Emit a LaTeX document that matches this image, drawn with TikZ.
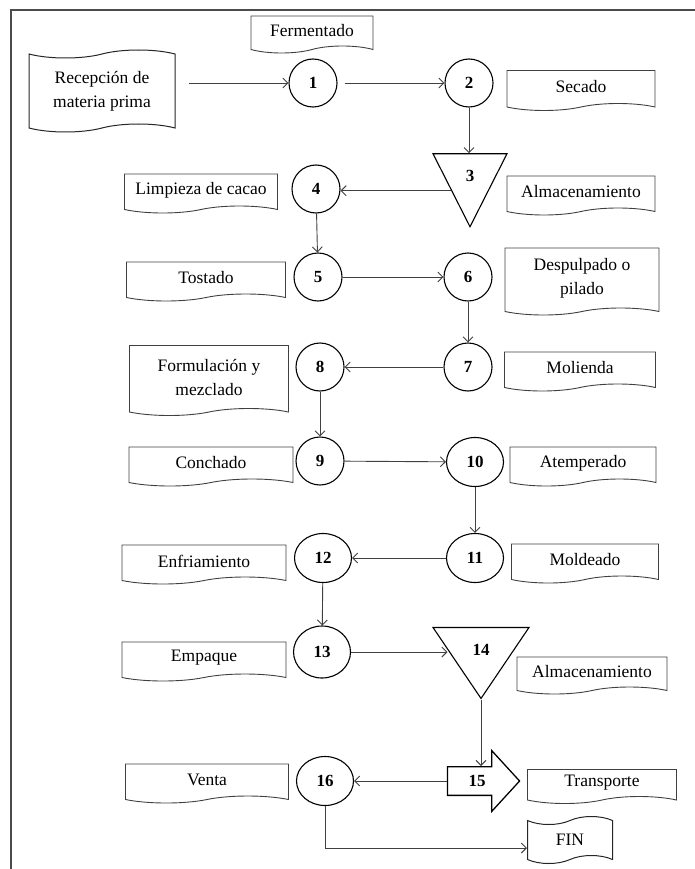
\documentclass[tikz,border=0pt]{standalone}
\usepackage{fontspec}
\setmainfont{Liberation Serif}
\usetikzlibrary{shapes.geometric, shapes.symbols, shapes.arrows, arrows.meta, positioning}

\begin{document}
\begin{tikzpicture}[x=1pt, y=-1pt,
  txt/.style={font=\fontsize{17.5}{24}\selectfont, align=center},
  doc/.style={txt, draw=black!75, line width=0.9pt, tape, tape bend top=none, tape bend bottom=in and out, tape bend height=7pt, inner sep=0pt, minimum height=39pt},
  flag/.style={txt, draw=black!85, line width=1pt, tape, tape bend height=8pt, inner sep=0pt},
  op/.style={draw, ellipse, line width=1.1pt, minimum width=48pt, minimum height=48pt, inner sep=0pt, font=\fontsize{17}{20}\selectfont\bfseries},
  wop/.style={op, minimum width=57pt, minimum height=49pt},
  store/.style={draw, isosceles triangle, isosceles triangle stretches, shape border rotate=-90, line width=1.1pt, inner sep=0pt, font=\fontsize{17}{20}\selectfont\bfseries},
  move/.style={draw, single arrow, single arrow head extend=16pt, single arrow tip angle=95, line width=1.3pt, inner xsep=10pt, inner ysep=8pt, minimum height=72pt, font=\fontsize{17}{20}\selectfont\bfseries},
  arrow/.style={-{Straight Barb[length=5pt, width=10pt]}, line width=0.9pt, draw=black!75}
]
\useasboundingbox (0,0) rectangle (695,869);

% Frame
\draw[line width=1.2pt, black!70] (11,869) -- (11,10) -- (695,10);

% Row 1
\node[flag, minimum width=146pt, minimum height=82pt] (recep) at (102,91) {Recepción de\\materia prima};
\node[doc, minimum width=122pt, minimum height=37pt] (ferm) at (312,31) {Fermentado};
\node[op] (c1) at (313,83) {1};
\node[op] (c2) at (469,83) {2};
\node[doc, minimum width=148pt, minimum height=40pt] (secado) at (581,87) {Secado};

% Row 2
\node[store, minimum width=74pt, minimum height=73pt] (t3) at (470,176) {3};
\node[doc, minimum width=148pt] (alm1) at (581,192) {Almacenamiento};
\node[op] (c4) at (316,189) {4};
\node[doc, minimum width=153pt] (limp) at (201,190) {Limpieza de cacao};

% Row 3
\node[doc, minimum width=159pt] (tost) at (206,278) {Tostado};
\node[op] (c5) at (318,277) {5};
\node[op] (c6) at (468,277) {6};
\node[doc, minimum width=154pt, minimum height=67pt] (desp) at (582,278) {Despulpado o\\pilado};

% Row 4
\node[op] (c7) at (468,367) {7};
\node[doc, minimum width=151pt] (mol) at (580,368) {Molienda};
\node[op] (c8) at (320,367) {8};
\node[doc, minimum width=159pt, minimum height=70pt] (form) at (209,377) {Formulación y\\mezclado};

% Row 5
\node[doc, minimum width=164pt] (conch) at (211,463) {Conchado};
\node[op] (c9) at (320,461) {9};
\node[wop] (c10) at (475,462) {10};
\node[doc, minimum width=146pt] (atem) at (583,463) {Atemperado};

% Row 6
\node[wop] (c11) at (475,558) {11};
\node[doc, minimum width=147pt] (mold) at (585,560) {Moldeado};
\node[wop] (c12) at (323,558) {12};
\node[doc, minimum width=164pt] (enfr) at (204,561) {Enfriamiento};

% Row 7
\node[doc, minimum width=164pt] (emp) at (204,658) {Empaque};
\node[wop, minimum height=52pt] (c13) at (322,652) {13};
\node[store, minimum width=96pt, minimum height=71pt] (t14) at (481,650) {14};
\node[doc, minimum width=150pt, minimum height=37pt] (alm2) at (592,672) {Almacenamiento};

% Row 8
\node[doc, minimum width=163pt] (venta) at (207,780) {Venta};
\node[wop] (c16) at (325,781) {16};
\node[move] (t15) at (477,781) {15};
\node[doc, minimum width=149pt, minimum height=34pt] (transp) at (602,783) {Transporte};

% Row 9
\node[flag, minimum width=85pt, minimum height=47pt] (fin) at (570,840) {FIN};

% Arrows along the process
\draw[arrow, shorten <=13pt] (recep.east |- c1) -- (c1);
\draw[arrow, shorten <=7pt] (c1) -- (c2);
\draw[arrow] (c2) -- (c2 |- t3.north);
\draw[arrow] (t3.right side) -- (t3.right side -| c4.east);
\draw[arrow] (c4) -- (c5);
\draw[arrow] (c5) -- (c6);
\draw[arrow] (c6) -- (c7);
\draw[arrow] (c7) -- (c8);
\draw[arrow] (c8) -- (c9);
\draw[arrow] (c9) -- (c10);
\draw[arrow] (c10) -- (c11);
\draw[arrow] (c11) -- (c12);
\draw[arrow] (c12) -- (c13);
\draw[arrow] (c13) -- (c13 -| t14.west);
\draw[arrow] (t14.apex) -- (t14.apex |- t15.north);
\draw[arrow] (t15.tail) -- (c16);
\draw[arrow] (c16) |- ([yshift=-8pt]fin.west);

\end{tikzpicture}
\end{document}
